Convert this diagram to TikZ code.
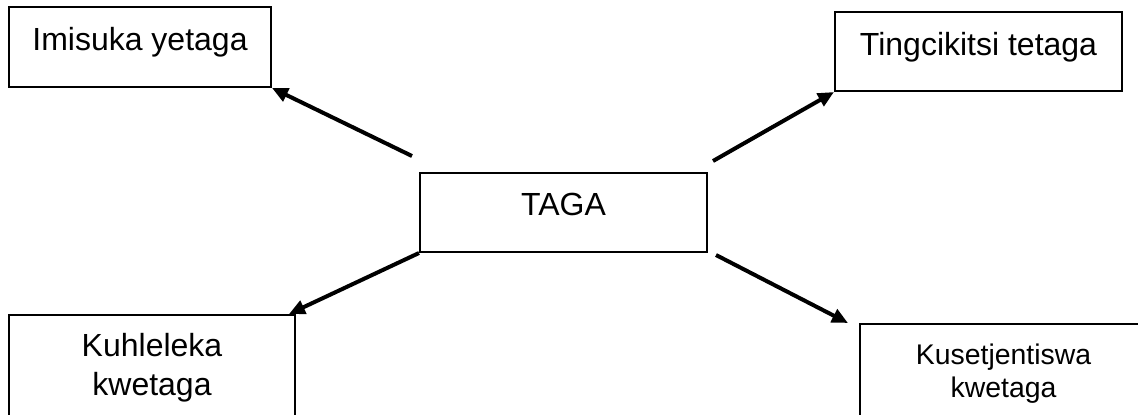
\documentclass[tikz,border=0pt]{standalone}
\usepackage{fontspec}
\setmainfont{Liberation Sans}
\usetikzlibrary{arrows.meta,positioning}
\tikzset{
    concept/.style={rectangle,draw,line width=1pt,inner sep=0pt,align=center,
        minimum width=143.5pt,font=\fontsize{16}{19.5}\selectfont},
    pre/.style={->,line width=2pt,>={Triangle[length=8pt,width=7pt]}}
}

\begin{document}
\begin{tikzpicture}
                [x=0.5pt,y=-0.5pt]

                \useasboundingbox (0,0) rectangle (1138,414);

                \node[concept,text height=21pt,text depth=18.5pt] (taga) at (563.5,212.5) {TAGA};

                \node[concept,minimum width=131pt,text height=21.5pt,text depth=18.5pt]
                    (imisuka) [above left=42pt and 73.5pt of taga.north west] {Imisuka yetaga};
                \node[concept,text height=21.5pt,text depth=18pt]
                    (tingcikitsi) [above right=40pt and 63pt of taga.north east] {Tingcikitsi tetaga};
                \node[concept,minimum width=143pt,text height=40pt,text depth=45pt]
                    (kuhleleka) [below left=30.5pt and 61.5pt of taga.south west] {Kuhleleka\\kwetaga};
                \node[concept,text height=36.5pt,text depth=45pt,font=\fontsize{14.2}{16.5}\selectfont]
                    (kusetjentiswa) [below right=35pt and 75.5pt of taga.south east] {Kusetjentiswa\\kwetaga};

                \coordinate (s1) at ([shift={(-3.5pt,8pt)}]taga.north west);
                \coordinate (s2) at ([shift={(2.5pt,5.5pt)}]taga.north east);
                \coordinate (s4) at ([shift={(4pt,-1pt)}]taga.south east);

                \draw[pre] (s1) -- (imisuka.south east);
                \draw[pre] (s2) -- (tingcikitsi.south west);
                \draw[pre] (taga.south west) -- ([xshift=-3.5pt]kuhleleka.north east);
                \draw[pre] (s4) -- ([xshift=-5.5pt]kusetjentiswa.north west);

            \end{tikzpicture}
\end{document}
